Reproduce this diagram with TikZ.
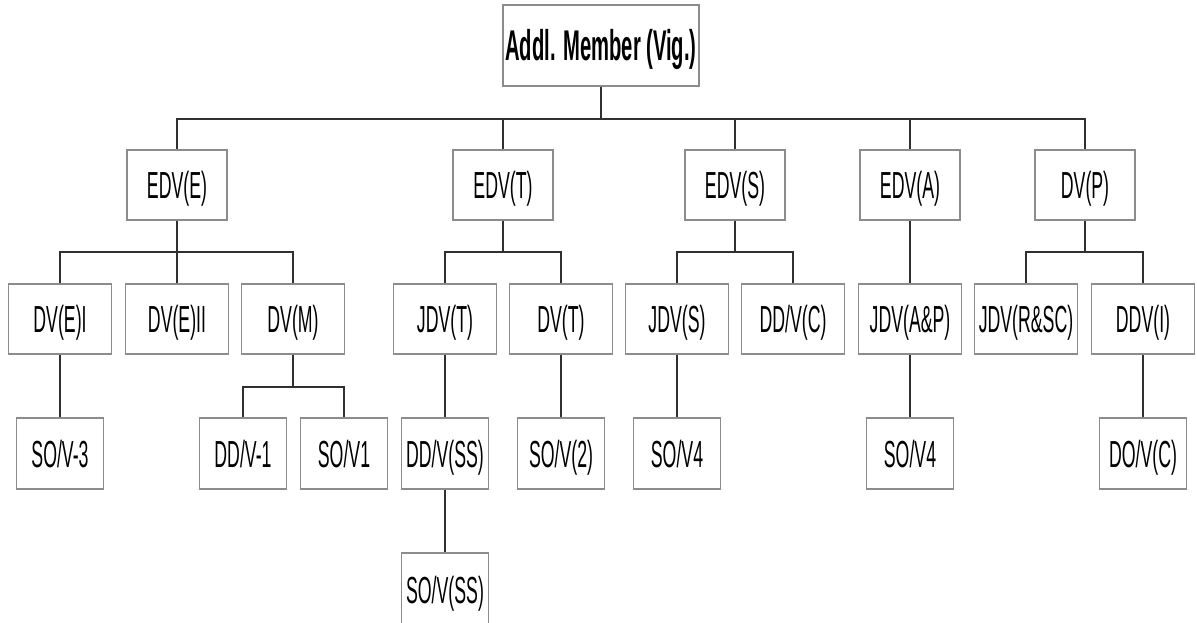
\documentclass[tikz,border=0pt]{standalone}
\usepackage{fontspec}
\newfontfamily\orgfont[FakeStretch=0.47]{Liberation Sans}
\definecolor{boxgray}{HTML}{8C8C8C}
\definecolor{linegray}{HTML}{303030}

\begin{document}
\begin{tikzpicture}[x=1pt,y=-1pt,
  box/.style={draw=boxgray, line width=1.8pt, fill=white, inner sep=0pt,
    text height=27pt, text depth=0pt, font=\fontsize{37.7}{40}\orgfont},
  top/.style={box, minimum width=196pt, minimum height=81pt, text height=31pt,
    font=\fontsize{43}{46}\orgfont\bfseries},
  lvlone/.style={box, minimum width=100pt, minimum height=70pt},
  lvltwo/.style={box, minimum width=103pt, minimum height=70pt},
  lvlthree/.style={box, minimum width=87pt, minimum height=71pt},
  link/.style={draw=linegray, line width=1.8pt}]
  \useasboundingbox (0,0) rectangle (1197,623);

  % Top
  \node[top] (addl) at (601,45.5) {Addl. Member (Vig.)};

  % First level
  \node[lvlone] (edve) at (177,185) {EDV(E)};
  \node[lvlone] (edvt) at (503,185) {EDV(T)};
  \node[lvlone] (edvs) at (735,185) {EDV(S)};
  \node[lvlone] (edva) at (910,185) {EDV(A)};
  \node[lvlone] (dvp)  at (1085,185) {DV(P)};

  % Second level
  \node[lvltwo] (dvei)   at (60,319)   {DV(E)I};
  \node[lvltwo] (dveii)  at (177,319)  {DV(E)II};
  \node[lvltwo] (dvm)    at (293,319)  {DV(M)};
  \node[lvltwo] (jdvt)   at (445,319)  {JDV(T)};
  \node[lvltwo] (dvt)    at (561,319)  {DV(T)};
  \node[lvltwo] (jdvs)   at (677,319)  {JDV(S)};
  \node[lvltwo] (ddvc)   at (793,319)  {DD/V(C)};
  \node[lvltwo] (jdvap)  at (910,319)  {JDV(A\&P)};
  \node[lvltwo] (jdvrsc) at (1026,319) {JDV(R\&SC)};
  \node[lvltwo] (ddvi)   at (1143,319) {DDV(I)};

  % Third level
  \node[lvlthree] (sovthree) at (60,453.5)   {SO/V-3};
  \node[lvlthree] (ddvone)   at (243,453.5)  {DD/V-1};
  \node[lvlthree] (sovone)   at (344,453.5)  {SO/V1};
  \node[lvlthree] (ddvss)    at (445,453.5)  {DD/V(SS)};
  \node[lvlthree] (sovtwo)   at (561,453.5)  {SO/V(2)};
  \node[lvlthree] (sovfours) at (677,453.5)  {SO/V4};
  \node[lvlthree] (sovfoura) at (910,453.5)  {SO/V4};
  \node[lvlthree] (dovc)     at (1143,453.5) {DO/V(C)};

  % Fourth level
  \node[lvlthree, minimum height=73pt] (sovss) at (445,589.5) {SO/V(SS)};

  % Drawing
  \foreach \n in {edve,edvt,edvs,edva,dvp}
    \draw[link] (addl.south) -- ++(0,32) -| (\n.north);
  \foreach \n in {dvei,dveii,dvm}
    \draw[link] (edve.south) -- ++(0,31) -| (\n.north);
  \foreach \n in {jdvt,dvt}
    \draw[link] (edvt.south) -- ++(0,31) -| (\n.north);
  \foreach \n in {jdvs,ddvc}
    \draw[link] (edvs.south) -- ++(0,31) -| (\n.north);
  \foreach \n in {jdvrsc,ddvi}
    \draw[link] (dvp.south) -- ++(0,31) -| (\n.north);
  \foreach \n in {ddvone,sovone}
    \draw[link] (dvm.south) -- ++(0,32) -| (\n.north);
  \draw[link] (edva.south) -- (jdvap.north);
  \draw[link] (dvei.south) -- (sovthree.north);
  \draw[link] (jdvt.south) -- (ddvss.north);
  \draw[link] (ddvss.south) -- (sovss.north);
  \draw[link] (dvt.south) -- (sovtwo.north);
  \draw[link] (jdvs.south) -- (sovfours.north);
  \draw[link] (jdvap.south) -- (sovfoura.north);
  \draw[link] (ddvi.south) -- (dovc.north);
\end{tikzpicture}
\end{document}
